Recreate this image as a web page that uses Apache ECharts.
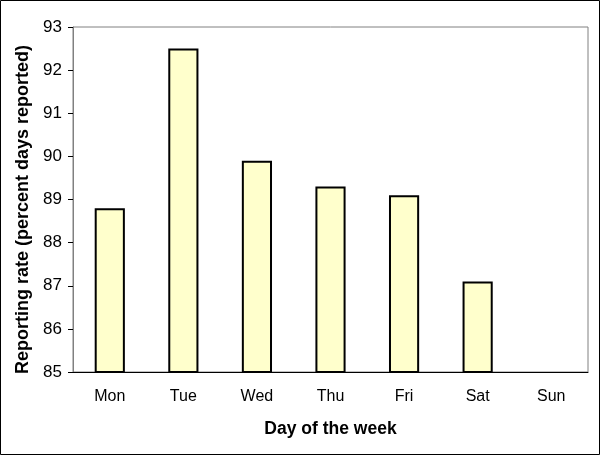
<!DOCTYPE html>
<html>
<head>
<meta charset="utf-8">
<script src="https://cdn.jsdelivr.net/npm/echarts@6/dist/echarts.min.js"></script>
<style>
  html, body { margin: 0; padding: 0; background: #fff; }
  #main { width: 600px; height: 455px; }
</style>
</head>
<body>
<div id="main"></div>
<script>
// 数据
var days = ['Mon', 'Tue', 'Wed', 'Thu', 'Fri', 'Sat', 'Sun']
var rates = [88.8, 92.5, 89.9, 89.3, 89.1, 87.1, null]
var yTicks = [85, 86, 87, 88, 89, 90, 91, 92, 93]

var myChart = echarts.init(document.getElementById('main'))

var option = {
  animation: false,
  textStyle: { fontFamily: 'Liberation Sans, Arial, sans-serif', color: '#000' },
  graphic: [
    {
      type: 'rect',
      shape: { x: 0.5, y: 0.5, width: 599, height: 454 },
      style: { fill: 'none', stroke: '#000', lineWidth: 1 },
      z: 100,
    },
  ],
  grid: {
    left: 73,
    right: 12,
    top: 27,
    bottom: 83,
    show: true,
    borderColor: '#808080',
    borderWidth: 1,
  },
  xAxis: {
    type: 'category',
    data: days,
    name: 'Day of the week',
    nameLocation: 'middle',
    nameGap: 48,
    nameTextStyle: { fontSize: 17.5, fontWeight: 'bold', color: '#000' },
    axisLine: { lineStyle: { color: '#000', width: 1 } },
    axisTick: { length: 5, lineStyle: { color: '#000' } },
    axisLabel: { fontSize: 16, color: '#000', margin: 17 },
  },
  yAxis: {
    type: 'value',
    min: yTicks[0],
    max: yTicks[yTicks.length - 1],
    interval: 1,
    name: 'Reporting rate (percent days reported)',
    nameLocation: 'middle',
    nameGap: 37,
    nameTextStyle: { fontSize: 18, fontWeight: 'bold', color: '#000', padding: [0, 20, 0, 0] },
    splitLine: { show: false },
    axisLine: { show: true, lineStyle: { color: '#808080' } },
    axisTick: { show: true, length: 5, lineStyle: { color: '#000' } },
    axisLabel: { fontSize: 17, color: '#000', margin: 11 },
  },
  series: [
    {
      type: 'bar',
      data: rates,
      barWidth: '41%',
      itemStyle: { color: '#FFFFCC', borderColor: '#000', borderWidth: 2 },
    },
  ],
}

myChart.setOption(option)
</script>
</body>
</html>
